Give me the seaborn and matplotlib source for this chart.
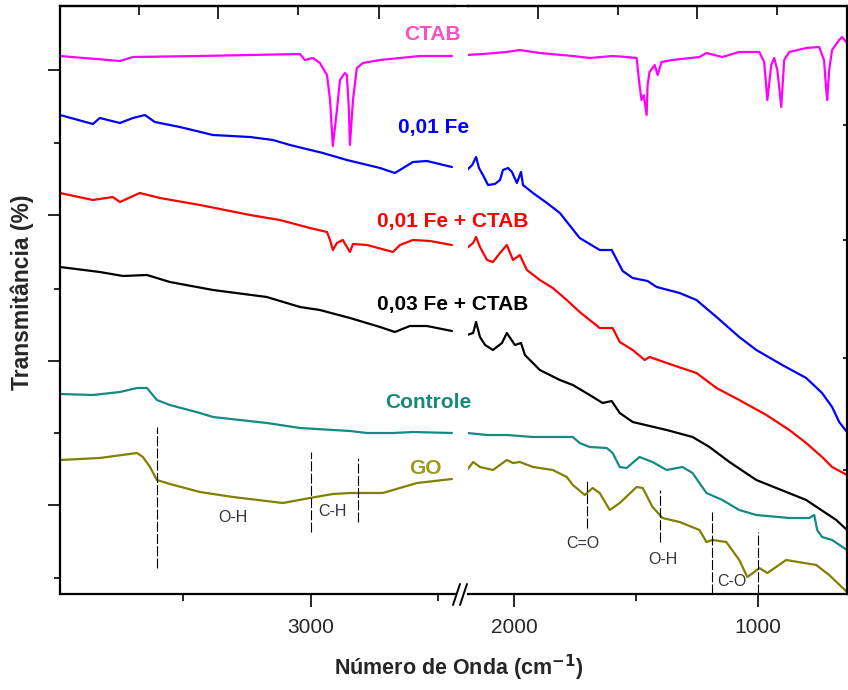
import pandas as pd
import seaborn as sns
import matplotlib.pyplot as plt
from matplotlib.lines import Line2D

# valores lidos do espectro (número de onda em cm-1, transmitância em u.a.)
# ---- região alta (lado esquerdo do eixo quebrado) ----
ctab_wn_a = [3984, 3749, 3698, 3435, 3043, 3024, 2992, 2965, 2937, 2925, 2914, 2898,
             2886, 2867, 2859, 2851, 2847, 2835, 2820, 2796, 2729, 2651, 2573, 2447]
ctab_t_a = [538, 533, 537, 538, 540, 534, 536, 531, 519, 494, 448, 484,
            514, 521, 519, 484, 449, 494, 526, 531, 534, 536, 538, 538]

fe01_wn_a = [3984, 3855, 3828, 3749, 3698, 3651, 3612, 3514, 3384, 3239, 3149, 3082,
             2953, 2859, 2729, 2671, 2651, 2600, 2545, 2447]
fe01_t_a = [479, 470, 476, 471, 476, 479, 472, 467, 459, 457, 454, 449,
            441, 434, 426, 421, 424, 432, 433, 427]

fe01c_wn_a = [3984, 3855, 3777, 3749, 3671, 3592, 3435, 3239, 3122, 3004, 2937, 2925,
              2914, 2898, 2875, 2847, 2835, 2780, 2678, 2651, 2600, 2533, 2447]
fe01c_t_a = [401, 394, 397, 392, 401, 396, 389, 379, 374, 366, 362, 354,
             344, 351, 354, 342, 350, 349, 342, 349, 354, 353, 349]

fe03c_wn_a = [3984, 3828, 3737, 3643, 3553, 3384, 3173, 3043, 2965, 2847, 2729, 2671,
              2612, 2545, 2447]
fe03c_t_a = [327, 322, 318, 319, 312, 304, 297, 287, 284, 276, 267, 262, 268, 268, 263]

ctrl_wn_a = [3984, 3855, 3749, 3682, 3643, 3604, 3553, 3435, 3384, 3173, 3043, 2847,
             2780, 2678, 2600, 2447]
ctrl_t_a = [200, 199, 202, 206, 206, 194, 189, 181, 177, 171, 166, 163, 161, 161, 162, 161]

go_wn_a = [3984, 3828, 3682, 3659, 3631, 3604, 3553, 3435, 3306, 3110, 3004, 2914,
           2847, 2718, 2651, 2584, 2447]
go_t_a = [134, 136, 141, 137, 127, 114, 110, 102, 97, 91, 96, 100, 101, 101, 106, 111, 115]

# ---- região baixa (lado direito do eixo quebrado) ----
ctab_wn_b = [2192, 2127, 2029, 1976, 1894, 1759, 1690, 1596, 1539, 1498, 1486, 1478,
             1469, 1457, 1453, 1445, 1424, 1412, 1396, 1351, 1241, 1212, 1147, 1078,
             996, 976, 963, 947, 935, 922, 906, 894, 873, 804, 751, 731, 722, 718,
             710, 698, 669, 657, 637]
ctab_t_b = [539, 540, 542, 544, 541, 538, 536, 538, 537, 536, 509, 494,
            499, 479, 509, 522, 529, 519, 532, 534, 537, 541, 537, 542,
            542, 532, 494, 529, 536, 524, 487, 534, 542, 546, 547, 534, 504, 494,
            524, 544, 554, 557, 551]

fe01_wn_b = [2192, 2171, 2155, 2143, 2127, 2106, 2078, 2057, 2045, 2024, 2008, 1988,
             1971, 1963, 1922, 1865, 1812, 1731, 1649, 1600, 1555, 1514, 1453, 1416,
             1322, 1253, 1171, 1078, 1008, 902, 804, 739, 698, 669, 637]
fe01_t_b = [424, 429, 437, 426, 419, 409, 410, 414, 424, 426, 422, 411,
            422, 409, 401, 391, 381, 356, 344, 344, 323, 316, 313, 307,
            301, 294, 277, 257, 244, 229, 216, 201, 187, 172, 162]

fe01c_wn_b = [2192, 2167, 2155, 2139, 2110, 2086, 2057, 2029, 2004, 1976, 1947, 1894,
              1841, 1784, 1731, 1649, 1596, 1567, 1514, 1465, 1445, 1351, 1253, 1171,
              1078, 967, 873, 804, 739, 698, 637]
fe01c_t_b = [346, 351, 357, 347, 334, 332, 341, 349, 334, 339, 324, 314,
             306, 294, 282, 266, 266, 252, 244, 234, 237, 229, 221, 206,
             194, 179, 164, 151, 137, 127, 119]

fe03c_wn_b = [2192, 2167, 2155, 2139, 2118, 2086, 2049, 2029, 1996, 1971, 1955, 1894,
              1812, 1759, 1690, 1637, 1600, 1567, 1514, 1375, 1269, 1200, 1118, 1008,
              804, 681, 637]
fe03c_t_b = [259, 261, 272, 257, 249, 244, 251, 261, 249, 251, 239, 224,
             214, 209, 199, 191, 193, 181, 172, 164, 157, 147, 132, 114,
             94, 74, 64]

ctrl_wn_b = [2192, 2110, 2029, 1922, 1759, 1731, 1690, 1620, 1596, 1567, 1539, 1486,
             1433, 1375, 1310, 1269, 1241, 1212, 1147, 1078, 1008, 873, 792, 771,
             759, 739, 698, 637]
ctrl_t_b = [161, 159, 159, 157, 157, 151, 147, 146, 141, 127, 126, 137,
            132, 124, 127, 121, 111, 101, 94, 84, 79, 76, 76, 79,
            64, 57, 54, 44]

go_wn_b = [2192, 2167, 2139, 2086, 2029, 2004, 1976, 1922, 1841, 1784, 1759, 1710,
           1678, 1649, 1608, 1567, 1498, 1473, 1433, 1392, 1322, 1241, 1212, 1188,
           1131, 1078, 1045, 1016, 996, 963, 886, 763, 710, 637]
go_t_b = [124, 132, 127, 124, 134, 131, 132, 127, 124, 117, 109, 99,
          106, 101, 84, 91, 107, 106, 87, 76, 72, 64, 52, 54,
          52, 34, 17, 22, 26, 21, 34, 29, 19, 2]

# bandas marcadas no GO
band_wn = [3604, 3000, 2816, 1702, 1404, 1188, 1000]
band_top = [167, 142, 136, 114, 104, 82, 62]
band_bottom = [26, 62, 72, 66, 52, 0, 0]
band_names = ['O-H', 'C-H', 'C=O', 'O-H', 'C-O']
band_name_wn = [3306, 2914, 1718, 1392, 1110]
band_name_t = [76, 82, 51, 34, 12]

series = ['CTAB', '0,01 Fe', '0,01 Fe + CTAB', '0,03 Fe + CTAB', 'Controle', 'GO']
line_colors = ['#FF00FF', '#0000FF', '#FF0000', '#000000', '#158A84', '#808000']
label_colors = ['#FF4DC3', '#0000FF', '#FF0000', '#000000', '#158A7A', '#9A9A1E']

parts_a = [(ctab_wn_a, ctab_t_a), (fe01_wn_a, fe01_t_a), (fe01c_wn_a, fe01c_t_a),
           (fe03c_wn_a, fe03c_t_a), (ctrl_wn_a, ctrl_t_a), (go_wn_a, go_t_a)]
parts_b = [(ctab_wn_b, ctab_t_b), (fe01_wn_b, fe01_t_b), (fe01c_wn_b, fe01c_t_b),
           (fe03c_wn_b, fe03c_t_b), (ctrl_wn_b, ctrl_t_b), (go_wn_b, go_t_b)]

rows = []
for name, (wa, ta), (wb, tb) in zip(series, parts_a, parts_b):
    rows += [{'amostra': name, 'parte': 'a', 'wn': w, 't': t} for w, t in zip(wa, ta)]
    rows += [{'amostra': name, 'parte': 'b', 'wn': w, 't': t} for w, t in zip(wb, tb)]
df = pd.DataFrame(rows)

sns.set_style('white')
plt.rcParams['font.family'] = ['Liberation Sans', 'DejaVu Sans']

W, H = 848, 690
fig = plt.figure(figsize=(W / 100, H / 100), dpi=100)


def fx(px):
    return px / W


def fy(py):
    return 1 - py / H


ax1 = fig.add_axes([fx(60), fy(594), fx(455 - 60), (594 - 6) / H])
ax2 = fig.add_axes([fx(468), fy(594), fx(847 - 468), (594 - 6) / H])

palette = dict(zip(series, line_colors))
for ax, parte in [(ax1, 'a'), (ax2, 'b')]:
    sub = df[df['parte'] == parte]
    sns.lineplot(data=sub, x='wn', y='t', hue='amostra', palette=palette,
                 estimator=None, sort=False, linewidth=1.6, legend=False, ax=ax)
    ax.set_ylim(0, 588)
    ax.set_xlabel('')
    ax.set_ylabel('')
    for sp in ax.spines.values():
        sp.set_linewidth(1.6)
        sp.set_color('black')

ax1.set_xlim(3984, 2435)
ax2.set_xlim(2188, 637)

# bandas (linhas tracejadas) e rótulos
for ax in (ax1, ax2):
    lo, hi = sorted(ax.get_xlim())
    for w, t0, t1 in zip(band_wn, band_bottom, band_top):
        if lo <= w <= hi:
            ax.vlines(w, t0, t1, colors='black', linewidth=0.8, linestyles=(0, (9, 2)))
    for name, w, t in zip(band_names, band_name_wn, band_name_t):
        if lo <= w <= hi:
            ax.text(w, t, name, ha='center', va='center', fontsize=11.5, color='#333340')

# eixos: painel esquerdo
ax1.spines['right'].set_visible(False)
ax1.set_xticks([3000])
ax1.set_xticklabels(['3000'])
ax1.set_xticks([3500, 2500], minor=True)
ax1.set_yticks([89, 233, 379, 524])
ax1.set_yticks([16, 161, 305, 451], minor=True)
ax1.set_yticklabels([])
ax1.tick_params(axis='x', which='major', direction='out', length=9, width=1.4,
                labelsize=15, pad=8, bottom=True, top=False)
ax1.tick_params(axis='x', which='minor', direction='out', length=5, width=1.4,
                bottom=True, top=False)
ax1.tick_params(axis='y', which='major', direction='out', length=9, width=1.4,
                left=True, right=False)
ax1.tick_params(axis='y', which='minor', direction='out', length=4.5, width=1.4,
                left=True, right=False)

# eixos: painel direito
ax2.spines['left'].set_visible(False)
ax2.set_xticks([2000, 1000])
ax2.set_xticklabels(['2000', '1000'])
ax2.set_xticks([1500], minor=True)
ax2.yaxis.tick_right()
ax2.set_yticks([124, 236, 354, 469])
ax2.set_yticklabels([])
ax2.tick_params(axis='x', which='major', direction='out', length=9, width=1.4,
                labelsize=15, pad=8, bottom=True, top=False)
ax2.tick_params(axis='x', which='minor', direction='out', length=5, width=1.4,
                bottom=True, top=False)
ax2.tick_params(axis='y', which='major', direction='in', length=3, width=1.4,
                left=False, right=True)

# marcas no topo
for ax, major, minor in [(ax1, [3365, 2733], [3675, 3051]),
                         (ax2, [1902, 1249], [1576, 922])]:
    sec = ax.secondary_xaxis('top')
    sec.set_xticks(major)
    sec.set_xticks(minor, minor=True)
    sec.set_xticklabels([])
    sec.tick_params(which='major', direction='in', length=9.5, width=1.4, top=True)
    sec.tick_params(which='minor', direction='in', length=6.5, width=1.4, top=True)
    sec.spines['top'].set_linewidth(1.6)

# continuação da borda superior e quebra do eixo
fig.add_artist(Line2D([fx(454), fx(469)], [fy(6), fy(6)], color='black', lw=1.6))
fig.add_artist(Line2D([fx(453), fx(460)], [fy(605), fy(584)], color='black', lw=1.4))
fig.add_artist(Line2D([fx(460), fx(467)], [fy(605), fy(584)], color='black', lw=1.4))

# nomes das amostras
label_pos = [(432, 35), (434, 128), (453, 222), (453, 304), (428, 402), (425, 468)]
for name, col, (px, py) in zip(series, label_colors, label_pos):
    fig.text(fx(px), fy(py), name, ha='center', va='center', fontsize=15,
             fontweight='bold', color=col)

fig.text(fx(22), fy(292), 'Transmitância (%)', rotation=90, ha='center', va='center',
         fontsize=16.5, fontweight='bold')
fig.text(fx(459), fy(668), r'Número de Onda (cm$^{\mathbf{-1}}$)', ha='center',
         va='center', fontsize=15.5, fontweight='bold')

fig.savefig('out.png', dpi=100)
